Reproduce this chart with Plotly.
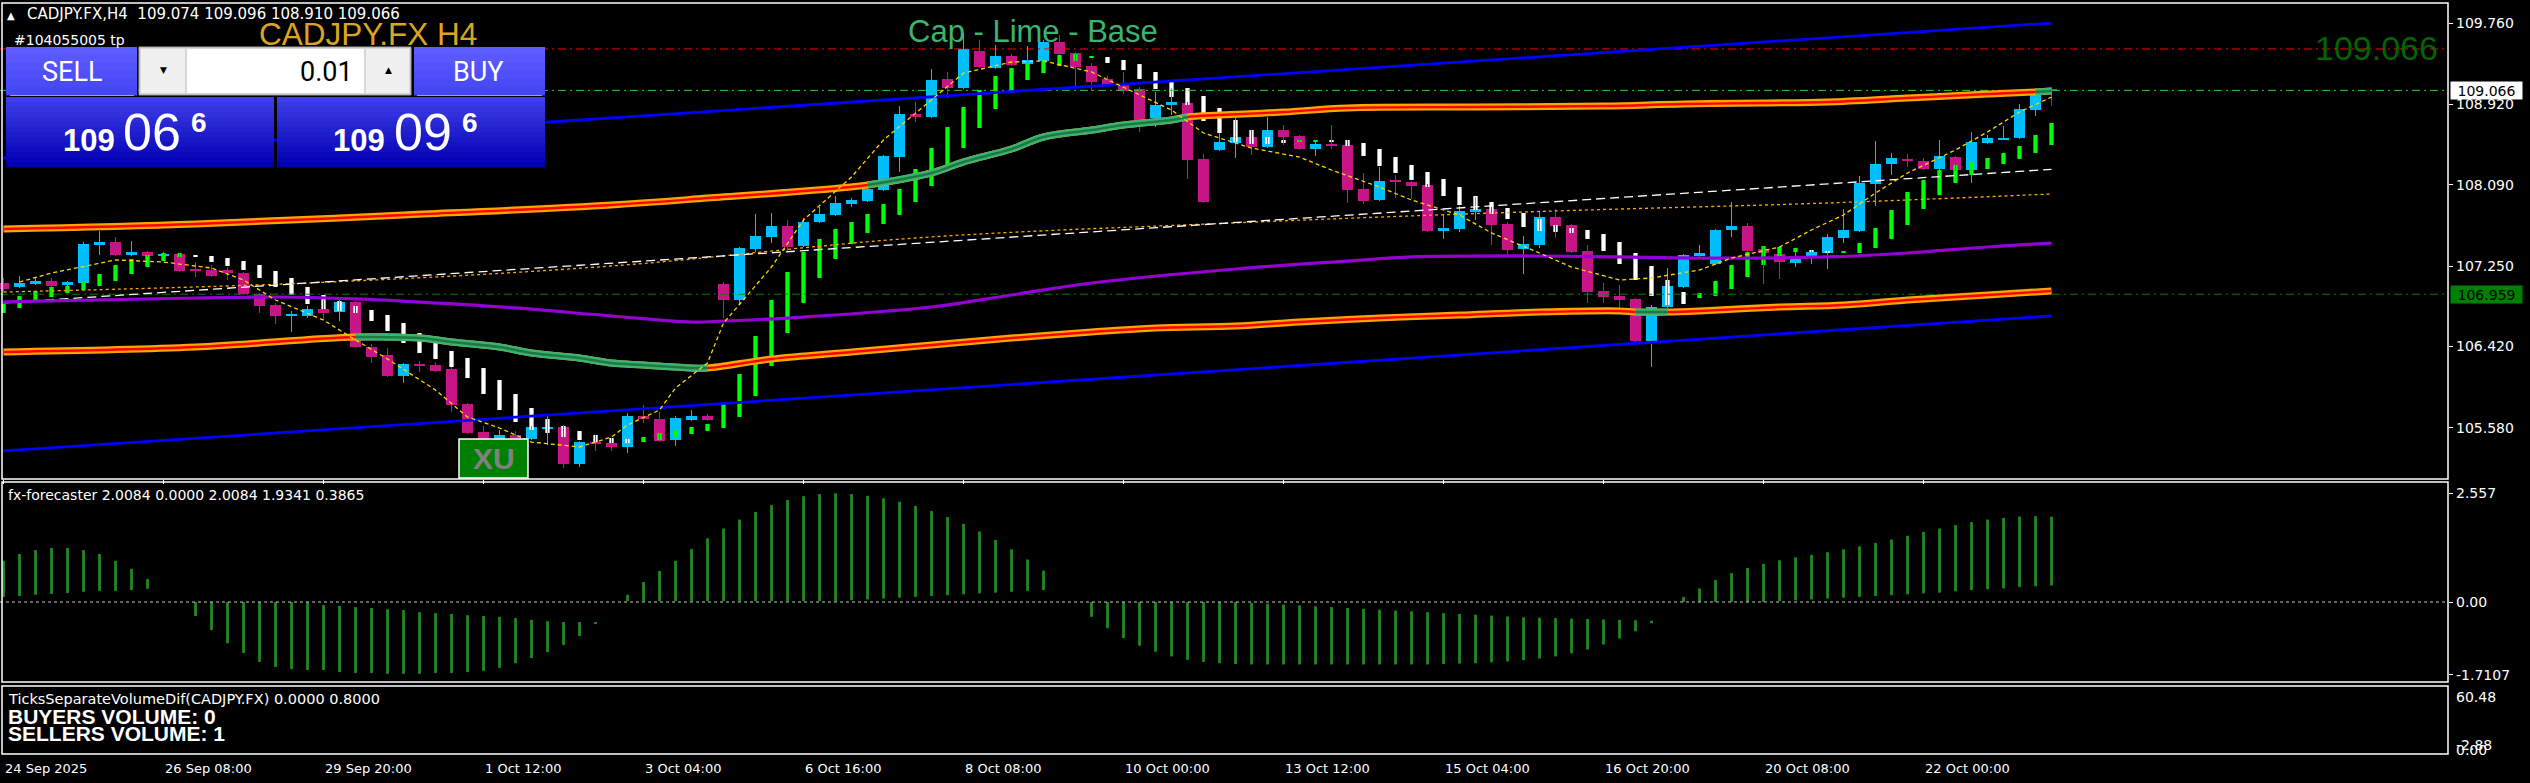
import plotly.graph_objects as go

W, H = 2530, 783

# ---------------- data ----------------
time_labels = ["24 Sep 2025", "26 Sep 08:00", "29 Sep 20:00", "1 Oct 12:00", "3 Oct 04:00",
               "6 Oct 16:00", "8 Oct 08:00", "10 Oct 00:00", "13 Oct 12:00", "15 Oct 04:00",
               "16 Oct 20:00", "20 Oct 08:00", "22 Oct 00:00"]
time_label_bars = [0, 10, 20, 30, 40, 50, 60, 70, 80, 90, 100, 110, 120]

opens = [107.075, 107.034, 107.065, 107.096, 107.054, 107.075, 107.468, 107.499, 107.364, 107.395,
         107.354, 107.375, 107.209, 107.209, 107.209, 107.178, 106.961, 106.848, 106.734, 106.734,
         106.806, 106.775, 106.879, 106.413, 106.331, 106.114, 106.238, 106.227, 106.186, 105.824,
         105.535, 105.463, 105.504, 105.463, 105.576, 105.587, 105.204, 105.431, 105.421, 105.380,
         105.700, 105.669, 105.452, 105.659, 105.700, 107.065, 106.899, 107.426, 107.550, 107.664,
         107.457, 107.705, 107.778, 107.891, 107.922, 108.036, 108.377, 108.822, 108.791, 109.183,
         109.090, 109.473, 109.297, 109.421, 109.338, 109.370, 109.566, 109.452, 109.318, 109.183,
         109.132, 109.080, 108.780, 108.915, 108.935, 108.357, 108.450, 108.522, 108.584, 108.481,
         108.656, 108.594, 108.460, 108.512, 108.501, 108.047, 107.933, 108.129, 108.119, 108.088,
         107.612, 107.633, 107.809, 107.840, 107.685, 107.426, 107.468, 107.757, 107.674, 107.406,
         106.992, 106.941, 106.910, 106.475, 106.827, 107.034, 107.354, 107.271, 107.623, 107.664,
         107.426, 107.375, 107.282, 107.354, 107.385, 107.540, 107.612, 108.098, 108.305, 108.357,
         108.336, 108.253, 108.377, 108.243, 108.522, 108.563, 108.574, 108.863, 109.074]
highs = [107.127, 107.147, 107.127, 107.127, 107.096, 107.499, 107.612, 107.550, 107.509, 107.406,
         107.395, 107.385, 107.292, 107.261, 107.240, 107.189, 106.972, 106.868, 106.786, 106.837,
         106.899, 106.899, 106.889, 106.444, 106.403, 106.248, 106.269, 106.258, 106.207, 105.835,
         105.597, 105.556, 105.545, 105.597, 105.711, 105.607, 105.442, 105.504, 105.473, 105.731,
         105.814, 105.742, 105.700, 105.762, 105.721, 107.085, 107.447, 107.788, 107.798, 107.726,
         107.747, 107.860, 107.974, 107.953, 108.057, 108.398, 108.904, 108.946, 109.287, 109.256,
         109.659, 109.587, 109.535, 109.442, 109.525, 109.587, 109.638, 109.463, 109.349, 109.214,
         109.256, 109.101, 109.049, 109.090, 108.946, 108.408, 108.625, 108.780, 108.656, 108.791,
         108.708, 108.605, 108.553, 108.708, 108.553, 108.212, 108.274, 108.191, 108.129, 108.098,
         107.778, 107.871, 107.964, 107.860, 107.705, 107.561, 107.819, 107.840, 107.685, 107.468,
         107.075, 107.054, 106.920, 106.848, 107.230, 107.375, 107.468, 107.633, 107.912, 107.695,
         107.447, 107.385, 107.437, 107.416, 107.581, 107.840, 108.181, 108.543, 108.419, 108.408,
         108.367, 108.553, 108.388, 108.636, 108.605, 108.698, 108.925, 109.090, 109.096]
lows = [106.992, 107.023, 107.054, 107.034, 107.003, 107.065, 107.364, 107.354, 107.354, 107.344,
        107.344, 107.189, 107.137, 107.137, 107.106, 106.951, 106.765, 106.651, 106.568, 106.713,
        106.692, 106.682, 106.403, 106.248, 106.103, 106.041, 106.155, 106.155, 105.742, 105.514,
        105.452, 105.452, 105.442, 105.452, 105.400, 105.163, 105.173, 105.338, 105.338, 105.318,
        105.628, 105.431, 105.390, 105.649, 105.649, 106.713, 106.858, 107.395, 107.488, 107.395,
        107.447, 107.695, 107.767, 107.860, 107.912, 108.026, 108.222, 108.739, 108.780, 108.987,
        109.080, 109.297, 109.287, 109.318, 109.328, 109.359, 109.432, 109.101, 109.059, 109.111,
        109.028, 108.636, 108.687, 108.811, 108.150, 107.902, 108.439, 108.367, 108.398, 108.470,
        108.501, 108.450, 108.388, 108.460, 107.902, 107.891, 107.922, 107.953, 107.943, 107.602,
        107.530, 107.602, 107.726, 107.468, 107.354, 107.168, 107.437, 107.540, 107.385, 106.868,
        106.868, 106.817, 106.465, 106.207, 106.817, 107.023, 107.344, 107.261, 107.550, 107.395,
        107.065, 107.116, 107.240, 107.271, 107.220, 107.488, 107.602, 107.871, 108.191, 108.274,
        108.243, 108.243, 108.233, 108.109, 108.512, 108.553, 108.563, 108.801, 108.910]
closes = [107.013, 107.075, 107.096, 107.044, 107.085, 107.478, 107.499, 107.364, 107.395, 107.354,
          107.375, 107.199, 107.199, 107.147, 107.178, 106.961, 106.837, 106.734, 106.744, 106.806,
          106.765, 106.879, 106.413, 106.310, 106.114, 106.238, 106.227, 106.165, 105.814, 105.525,
          105.463, 105.504, 105.463, 105.587, 105.587, 105.204, 105.431, 105.421, 105.380, 105.700,
          105.669, 105.442, 105.680, 105.700, 105.659, 106.899, 107.437, 107.561, 107.664, 107.447,
          107.705, 107.788, 107.902, 107.933, 108.047, 108.388, 108.822, 108.791, 109.173, 109.090,
          109.494, 109.307, 109.421, 109.328, 109.380, 109.566, 109.442, 109.307, 109.152, 109.121,
          109.059, 108.760, 108.915, 108.946, 108.346, 107.912, 108.532, 108.584, 108.481, 108.656,
          108.584, 108.460, 108.512, 108.501, 108.036, 107.922, 108.129, 108.119, 108.077, 107.612,
          107.643, 107.819, 107.840, 107.674, 107.416, 107.478, 107.757, 107.664, 107.395, 106.982,
          106.930, 106.899, 106.475, 106.827, 107.044, 107.364, 107.385, 107.623, 107.664, 107.406,
          107.385, 107.292, 107.333, 107.395, 107.550, 107.623, 108.109, 108.305, 108.367, 108.346,
          108.253, 108.388, 108.243, 108.532, 108.574, 108.574, 108.873, 109.070, 109.066]

# smoothed (signal) bars: white = down, lime = up
sig_hi = [106.858, 106.941, 106.992, 107.034, 107.044, 107.085, 107.168, 107.261, 107.323, 107.364,
          107.385, 107.385, 107.364, 107.354, 107.333, 107.302, 107.261, 107.199, 107.127, 107.034,
          106.951, 106.889, 106.837, 106.796, 106.744, 106.661, 106.558, 106.465, 106.372, 106.300,
          106.196, 106.072, 105.928, 105.783, 105.669, 105.597, 105.545, 105.504, 105.473, 105.463,
          105.483, 105.525, 105.556, 105.587, 105.618, 105.835, 106.134, 106.527, 106.899, 107.189,
          107.395, 107.530, 107.633, 107.705, 107.788, 107.891, 108.047, 108.253, 108.470, 108.687,
          108.894, 109.070, 109.214, 109.297, 109.349, 109.390, 109.432, 109.442, 109.411, 109.411,
          109.380, 109.338, 109.256, 109.173, 109.090, 109.008, 108.884, 108.760, 108.656, 108.584,
          108.553, 108.553, 108.553, 108.553, 108.553, 108.522, 108.460, 108.377, 108.295, 108.222,
          108.150, 108.067, 107.974, 107.912, 107.850, 107.798, 107.736, 107.674, 107.643, 107.623,
          107.581, 107.499, 107.385, 107.251, 107.106, 106.982, 106.972, 107.096, 107.261, 107.395,
          107.457, 107.447, 107.437, 107.416, 107.406, 107.406, 107.488, 107.643, 107.829, 108.016,
          108.140, 108.243, 108.295, 108.326, 108.367, 108.419, 108.491, 108.605, 108.729]
sig_lo = [106.765, 106.817, 106.899, 106.930, 106.972, 107.003, 107.044, 107.096, 107.168, 107.240,
          107.302, 107.344, 107.344, 107.292, 107.251, 107.209, 107.127, 107.034, 106.951, 106.858,
          106.806, 106.786, 106.765, 106.682, 106.579, 106.455, 106.351, 106.289, 106.207, 106.093,
          105.928, 105.762, 105.638, 105.556, 105.525, 105.483, 105.452, 105.431, 105.421, 105.421,
          105.431, 105.452, 105.483, 105.514, 105.545, 105.576, 105.690, 105.907, 106.217, 106.558,
          106.868, 107.127, 107.323, 107.478, 107.592, 107.685, 107.778, 107.912, 108.077, 108.264,
          108.470, 108.677, 108.873, 109.039, 109.173, 109.245, 109.318, 109.370, 109.401, 109.349,
          109.276, 109.183, 109.080, 108.997, 108.915, 108.749, 108.625, 108.532, 108.512, 108.512,
          108.522, 108.532, 108.538, 108.538, 108.491, 108.388, 108.284, 108.212, 108.140, 108.067,
          107.974, 107.881, 107.829, 107.788, 107.736, 107.654, 107.612, 107.602, 107.592, 107.530,
          107.406, 107.271, 107.106, 106.941, 106.848, 106.858, 106.920, 106.941, 107.013, 107.137,
          107.261, 107.354, 107.395, 107.395, 107.385, 107.385, 107.385, 107.437, 107.530, 107.674,
          107.840, 107.984, 108.109, 108.191, 108.253, 108.305, 108.357, 108.419, 108.501]
sig_dir = ("111111111111" + "0000000000000000000000000000" + "11111111111111111111111111111"
           + "000000000000" + "11" + "00000000000000000000000" + "1111111" + "00" + "11111111111111")

# fx-forecaster histogram (segment top / bottom)
fx_hi = [0.97, 1.13, 1.22, 1.27, 1.27, 1.22, 1.13, 0.97, 0.78, 0.54,
         None, None,
         0.00, 0.00, 0.00, 0.00, 0.00, 0.00, 0.00, 0.00,
         -0.07, -0.09, -0.12, -0.14, -0.17, -0.19, -0.24, -0.26, -0.28, -0.31,
         -0.33, -0.35, -0.38, -0.42, -0.45, -0.47, -0.47, -0.47,
         None,
         0.17, 0.47, 0.73, 0.97, 1.25,
         1.50, 1.73, 1.94, 2.12, 2.28, 2.40, 2.49, 2.54, 2.557, 2.54,
         2.50, 2.44, 2.36, 2.26, 2.14, 2.00, 1.84, 1.66, 1.46, 1.24, 1.00, 0.74,
         None, None,
         0.00, 0.00, 0.00, 0.00, 0.00, 0.00, 0.00, 0.00, 0.00, 0.00,
         -0.02, -0.04, -0.06, -0.08, -0.10, -0.12, -0.14, -0.16, -0.18, -0.20,
         -0.22, -0.24, -0.26, -0.28, -0.30, -0.32, -0.34, -0.36, -0.37, -0.38,
         -0.39, -0.40, -0.41, -0.42, -0.43, -0.44,
         None,
         0.12, 0.32, 0.52, 0.68, 0.80, 0.90, 0.98, 1.05, 1.11, 1.17,
         1.24, 1.31, 1.39, 1.47, 1.56, 1.65, 1.73, 1.81, 1.88, 1.94,
         1.98, 2.01, 2.02, 2.0084]
fx_lo = [0.12, 0.14, 0.17, 0.19, 0.21, 0.24, 0.26, 0.26, 0.28, 0.31,
         None, None,
         -0.33, -0.66, -0.97, -1.20, -1.41, -1.53, -1.58, -1.60,
         -1.60, -1.65, -1.67, -1.67, -1.69, -1.69, -1.69, -1.67, -1.67, -1.65,
         -1.62, -1.55, -1.44, -1.32, -1.18, -1.01, -0.80, -0.52,
         None,
         0.02, 0.02, 0.02, 0.02, 0.02,
         0.02, 0.02, 0.02, 0.02, 0.02, 0.02, 0.02, 0.02, 0.02, 0.04,
         0.06, 0.08, 0.10, 0.12, 0.14, 0.16, 0.18, 0.20, 0.22, 0.24, 0.26, 0.28,
         None, None,
         -0.35, -0.62, -0.85, -1.03, -1.17, -1.28, -1.36, -1.41, -1.44, -1.46,
         -1.47, -1.47, -1.47, -1.47, -1.47, -1.47, -1.47, -1.47, -1.47, -1.47,
         -1.47, -1.47, -1.46, -1.45, -1.44, -1.42, -1.40, -1.37, -1.33, -1.28,
         -1.21, -1.12, -1.00, -0.86, -0.69, -0.50,
         None,
         0.00, 0.00, 0.00, 0.00, 0.00, 0.00, 0.02, 0.04, 0.06, 0.08,
         0.10, 0.12, 0.14, 0.16, 0.18, 0.20, 0.22, 0.25, 0.28, 0.30,
         0.32, 0.35, 0.37, 0.3865]

# envelope bands
upper_band_bar = [0, 12, 25, 38, 44, 54, 58, 60, 63, 65, 68, 70, 73, 74, 76, 80, 84, 92, 100, 105,
                  110, 114, 119, 124, 127, 128]
upper_band_val = [107.633, 107.685, 107.778, 107.881, 107.953, 108.088, 108.212, 108.326, 108.460,
                  108.584, 108.656, 108.708, 108.760, 108.791, 108.811, 108.842, 108.884, 108.894,
                  108.904, 108.925, 108.935, 108.946, 108.987, 109.028, 109.049, 109.059]
upper_band_green = [(54, 74), (127, 128)]
lower_band_bar = [0, 12, 22, 26, 28, 31, 33, 36, 38, 40, 43, 44, 48, 53, 58, 63, 68, 72, 77, 81,
                  86, 91, 96, 101, 102, 104, 106, 111, 115, 119, 124, 128]
lower_band_val = [106.362, 106.413, 106.517, 106.506, 106.465, 106.413, 106.351, 106.300, 106.248,
                  106.227, 106.196, 106.196, 106.289, 106.362, 106.434, 106.506, 106.568, 106.610,
                  106.630, 106.672, 106.713, 106.744, 106.775, 106.786, 106.775, 106.775, 106.786,
                  106.827, 106.848, 106.899, 106.951, 106.992]
lower_band_green = [(22, 44), (102, 104)]

purple_bar = [0, 12, 17, 22, 27, 32, 38, 43, 45, 50, 58, 63, 68, 77, 84, 88, 96, 101, 106, 114,
              119, 124, 128]
purple_val = [106.879, 106.920, 106.930, 106.910, 106.868, 106.817, 106.734, 106.672, 106.682,
              106.723, 106.827, 106.951, 107.075, 107.220, 107.302, 107.344, 107.354, 107.344,
              107.333, 107.344, 107.385, 107.447, 107.488]

slow_bar = [0, 19, 38, 57, 76, 95, 114, 128]
slow_val = [106.982, 107.075, 107.251, 107.540, 107.690, 107.809, 107.902, 107.995]

fast_bar = [1, 3, 7, 10, 13, 15, 17, 20, 22, 24, 27, 29, 31, 33, 36, 38, 39, 41, 42, 44, 45, 48,
            50, 53, 55, 58, 60, 63, 65, 68, 70, 73, 75, 78, 81, 83, 86, 88, 91, 93, 96, 98, 101,
            103, 106, 108, 111, 113, 115, 117, 119, 122, 124, 126, 128]
fast_val = [107.085, 107.178, 107.313, 107.292, 107.230, 107.106, 106.899, 106.692, 106.486,
            106.290, 105.969, 105.690, 105.576, 105.431, 105.380, 105.483, 105.607, 105.762,
            105.990, 106.248, 106.661, 107.240, 107.726, 108.171, 108.553, 108.966, 109.245,
            109.359, 109.370, 109.256, 109.101, 108.863, 108.625, 108.470, 108.377, 108.243,
            108.067, 107.933, 107.778, 107.592, 107.385, 107.240, 107.106, 107.127, 107.209,
            107.333, 107.447, 107.623, 107.778, 108.005, 108.212, 108.450, 108.636, 108.842,
            108.997]

channel_bar = [0, 128]
channel_upper = [108.367, 109.762]
channel_mid = [106.870, 108.250]
channel_lower = [105.339, 106.734]

level_red = 109.494
level_bid = 109.066
level_low = 106.959

price_ticks = [109.760, 108.920, 108.090, 107.250, 106.420, 105.580]
fx_ticks = [2.557, 0.0, -1.7107]
fx_tick_text = ["2.557", "0.00", "-1.7107"]

# ---------------- helpers ----------------
def px(x):
    return x / W


def py(y):
    return 1 - y / H


BULL = "#00BFFF"
BEAR = "#C71585"
X0, X1 = -0.21875, 152.78125
bars = list(range(len(opens)))

fig = go.Figure()


def add_line(xs, ys, color, width, dash=None, yaxis="y", shape="linear"):
    fig.add_trace(go.Scatter(x=xs, y=ys, mode="lines", yaxis=yaxis, hoverinfo="skip",
                             line=dict(color=color, width=width, dash=dash, shape=shape)))


def subset(bx, vals, a, b):
    xs, ys = [], []
    for i, v in zip(bx, vals):
        if a <= i <= b:
            xs.append(i)
            ys.append(v)
    return xs, ys


# horizontal levels
add_line([X0, X1], [level_red, level_red], "#FF0000", 1, "8px,4px,2px,4px")
add_line([X0, X1], [level_bid, level_bid], "#32CD32", 1, "8px,4px,2px,4px")
add_line([X0, X1], [level_low, level_low], "#008000", 1, "8px,4px,2px,4px")

# candle wicks
for up in (True, False):
    xs, ys = [], []
    for i in bars:
        if (closes[i] >= opens[i]) == up:
            xs += [i, i, None]
            ys += [lows[i], highs[i], None]
    add_line(xs, ys, BULL if up else BEAR, 1)

# candle bodies
fig.add_trace(go.Bar(
    x=bars,
    base=[min(o, c) for o, c in zip(opens, closes)],
    y=[max(abs(c - o), 0.011) for o, c in zip(opens, closes)],
    width=0.69,
    marker=dict(color=[BULL if c >= o else BEAR for o, c in zip(opens, closes)], line=dict(width=0)),
    hoverinfo="skip"))

# slow MA (orange dotted) and channel
add_line(slow_bar, slow_val, "#FFA500", 1.3, "3px,3px", shape="spline")
add_line(channel_bar, channel_mid, "#FFFFFF", 1.3, "9px,5px")
add_line(purple_bar, purple_val, "#9400D3", 3.2, shape="spline")
add_line(channel_bar, channel_upper, "#0000FF", 2.8)
add_line(channel_bar, channel_lower, "#0000FF", 2.8)

# envelope bands
for bx, bv, greens in ((upper_band_bar, upper_band_val, upper_band_green),
                       (lower_band_bar, lower_band_val, lower_band_green)):
    add_line(bx, bv, "#FFA500", 7, shape="spline")
    add_line(bx, bv, "#FF0000", 2.4, shape="spline")
    for a, b in greens:
        gx, gy = subset(bx, bv, a, b)
        add_line(gx, gy, "#3CB371", 7, shape="spline")
        add_line(gx, gy, "#1E7A44", 2.6, shape="spline")

# signal bars
fig.add_trace(go.Bar(
    x=bars, base=sig_lo,
    y=[max(h - l, 0.011) for h, l in zip(sig_hi, sig_lo)],
    width=0.27,
    marker=dict(color=["#00FF00" if d == "1" else "#FFFFFF" for d in sig_dir], line=dict(width=0)),
    hoverinfo="skip"))

# fast line (gold dashed)
add_line(fast_bar, fast_val, "#FFD700", 1.3, "4px,3px")

# fx-forecaster histogram
hx, hb, hh = [], [], []
for i in bars:
    if fx_hi[i] is not None:
        hx.append(i)
        hb.append(fx_lo[i])
        hh.append(max(fx_hi[i] - fx_lo[i], 0.03))
fig.add_trace(go.Bar(x=hx, base=hb, y=hh, width=0.17, yaxis="y2",
                     marker=dict(color="#228B22", line=dict(width=0)), hoverinfo="skip"))
add_line([X0, X1], [0, 0], "#C8C8C8", 1, "3px,3px", yaxis="y2")

# ---------------- layout ----------------
axis_common = dict(showgrid=False, zeroline=False, showline=False, fixedrange=True)
fig.update_layout(
    width=W, height=H, margin=dict(l=0, r=0, t=0, b=0),
    paper_bgcolor="black", plot_bgcolor="black", showlegend=False, barmode="overlay",
    font=dict(family="DejaVu Sans", color="white", size=14),
    xaxis=dict(domain=[0, 2448 / W], range=[X0, X1], anchor="y3", tickvals=time_label_bars,
               ticks="outside", ticklen=4, tickcolor="white", showticklabels=False, **axis_common),
    yaxis=dict(domain=[py(479), py(3)], range=[110 - 479 / 96.75, 110 - 3 / 96.75], side="right",
               anchor="x", tickvals=price_ticks, ticks="outside", ticklen=4, tickcolor="white",
               showticklabels=False, **axis_common),
    yaxis2=dict(domain=[py(682), py(482)], range=[-80 / 42.5, 120 / 42.5], side="right", anchor="x",
                tickvals=fx_ticks, ticks="outside", ticklen=4, tickcolor="white",
                showticklabels=False, **axis_common),
    yaxis3=dict(domain=[py(754), py(686)], range=[-8.47, 73.8], side="right", anchor="x",
                tickvals=[60.48], ticks="outside", ticklen=4, tickcolor="white",
                showticklabels=False, **axis_common),
)

shapes = []


def rect(x0, y0, x1, y1, fill=None, line=None, lw=0):
    shapes.append(dict(type="rect", xref="paper", yref="paper", layer="above",
                       x0=px(x0), x1=px(x1), y0=py(y1), y1=py(y0),
                       fillcolor=fill if fill else "rgba(0,0,0,0)",
                       line=dict(color=line if line else "rgba(0,0,0,0)", width=lw)))


def grad(x0, y0, x1, y1, top, bot, n=14):
    for k in range(n):
        t = k / (n - 1)
        c = "rgb(%d,%d,%d)" % tuple(round(top[j] + (bot[j] - top[j]) * t) for j in range(3))
        ya = y0 + (y1 - y0) * k / n
        yb = y0 + (y1 - y0) * (k + 1) / n + 0.5
        rect(x0, ya, x1, yb, fill=c)


# panel borders
rect(2, 3, 2448, 479, line="white", lw=1.5)
rect(2, 482, 2448, 682, line="white", lw=1.5)
rect(2, 686, 2448, 754, line="white", lw=1.5)

# XU box
rect(459, 439, 528, 478, fill="#008000", line="white", lw=1.5)

# one-click trading panel
grad(6, 47, 137, 95, (92, 92, 255), (70, 70, 245), n=6)
grad(414, 47, 545, 95, (92, 92, 255), (70, 70, 245), n=6)
rect(139, 47, 411, 95, fill="#D8D8D8", line="#A0A0A0", lw=1)
rect(141, 49, 185, 93, fill="#F0F0F0")
rect(187, 49, 364, 93, fill="#FFFFFF")
rect(366, 49, 409, 93, fill="#F0F0F0")
shapes.append(dict(type="line", xref="paper", yref="paper", layer="above", x0=px(10), x1=px(134),
                   y0=py(95.5), y1=py(95.5), line=dict(color="#9A9AFF", width=1)))
shapes.append(dict(type="line", xref="paper", yref="paper", layer="above", x0=px(417), x1=px(542),
                   y0=py(95.5), y1=py(95.5), line=dict(color="#9A9AFF", width=1)))
grad(6, 97, 274, 167, (62, 62, 232), (0, 0, 178))
grad(277, 97, 545, 167, (62, 62, 232), (0, 0, 178))

fig.update_layout(shapes=shapes)

ann = []


def text(x, y, s, size=14, color="white", family="DejaVu Sans", xanchor="left", bold=False,
         yref="paper", bg=None, w=None, h=None):
    d = dict(x=px(x), y=y if yref != "paper" else py(y), xref="paper", yref=yref, text=s,
             showarrow=False, xanchor=xanchor, yanchor="middle",
             font=dict(size=size, color=color, family=family, weight="bold" if bold else "normal"),
             borderpad=0)
    if bg:
        d.update(bgcolor=bg, width=w, height=h, align="center")
    ann.append(d)


# price axis labels
for v in price_ticks:
    text(2455, v, "%.3f" % v, yref="y")
for v, s in zip(fx_ticks, fx_tick_text):
    text(2455, v, s, yref="y2")
text(2455, 697, "60.48")
text(2455, 750, "0.00")
text(2455, 745, "-2.88")
text(2450, level_bid, "109.066", color="black", yref="y", bg="white", w=71, h=17)
text(2450, level_low, "106.959", color="black", yref="y", bg="#008000", w=71, h=17)

# time labels
for b, s in zip(time_label_bars, time_labels):
    ann.append(dict(x=b, y=py(768), xref="x", yref="paper", text=s, showarrow=False,
                    xanchor="left", yanchor="middle", xshift=-1,
                    font=dict(size=13, color="white", family="DejaVu Sans")))

# header texts
text(6, 15, "▲", size=10)
text(26, 14, "CADJPY.FX,H4  109.074 109.096 108.910 109.066", size=15)
text(13, 40, "#104055005 tp", size=14)
text(368, 34, "CADJPY.FX H4", size=31.5, color="#DAA520", family="Liberation Sans", xanchor="center")
text(1033, 32, "Cap - Lime - Base", size=31, color="#3CB371", family="Liberation Sans",
     xanchor="center")
text(2376, 48, "109.066", size=34, color="#006400", family="Liberation Sans", xanchor="center")
text(493.5, 459, "XU", size=30, color="#808080", family="Liberation Sans", xanchor="center",
     bold=True)

# panel texts
text(71.5, 72, "SELL", size=27, family="Roboto", xanchor="center")
text(478, 72, "BUY", size=27, family="Roboto", xanchor="center")
text(163, 70, "▼", size=9, color="black", xanchor="center")
text(388, 70, "▲", size=9, color="black", xanchor="center")
text(354, 72, "0.01", size=27, color="black", family="Roboto", xanchor="right")
text(89, 140, "109", size=31, family="Liberation Sans", xanchor="center", bold=True)
text(152, 132, "06", size=52, family="Liberation Sans", xanchor="center")
text(199, 122, "6", size=28, family="Liberation Sans", xanchor="center", bold=True)
text(359, 140, "109", size=31, family="Liberation Sans", xanchor="center", bold=True)
text(423, 132, "09", size=52, family="Liberation Sans", xanchor="center")
text(470, 122, "6", size=28, family="Liberation Sans", xanchor="center", bold=True)

# sub-window texts
text(7, 495, "fx-forecaster 2.0084 0.0000 2.0084 1.9341 0.3865", size=14)
text(7, 699, "TicksSeparateVolumeDif(CADJPY.FX) 0.0000 0.8000", size=14.5)
text(7, 716, "BUYERS VOLUME: 0", size=21, family="Liberation Sans", bold=True)
text(7, 733, "SELLERS VOLUME: 1", size=21, family="Liberation Sans", bold=True)

fig.update_layout(annotations=ann)

fig.write_html("out.html", config={"displayModeBar": False},
               post_script="document.body.style.margin='0';document.body.style.overflow='hidden';")
